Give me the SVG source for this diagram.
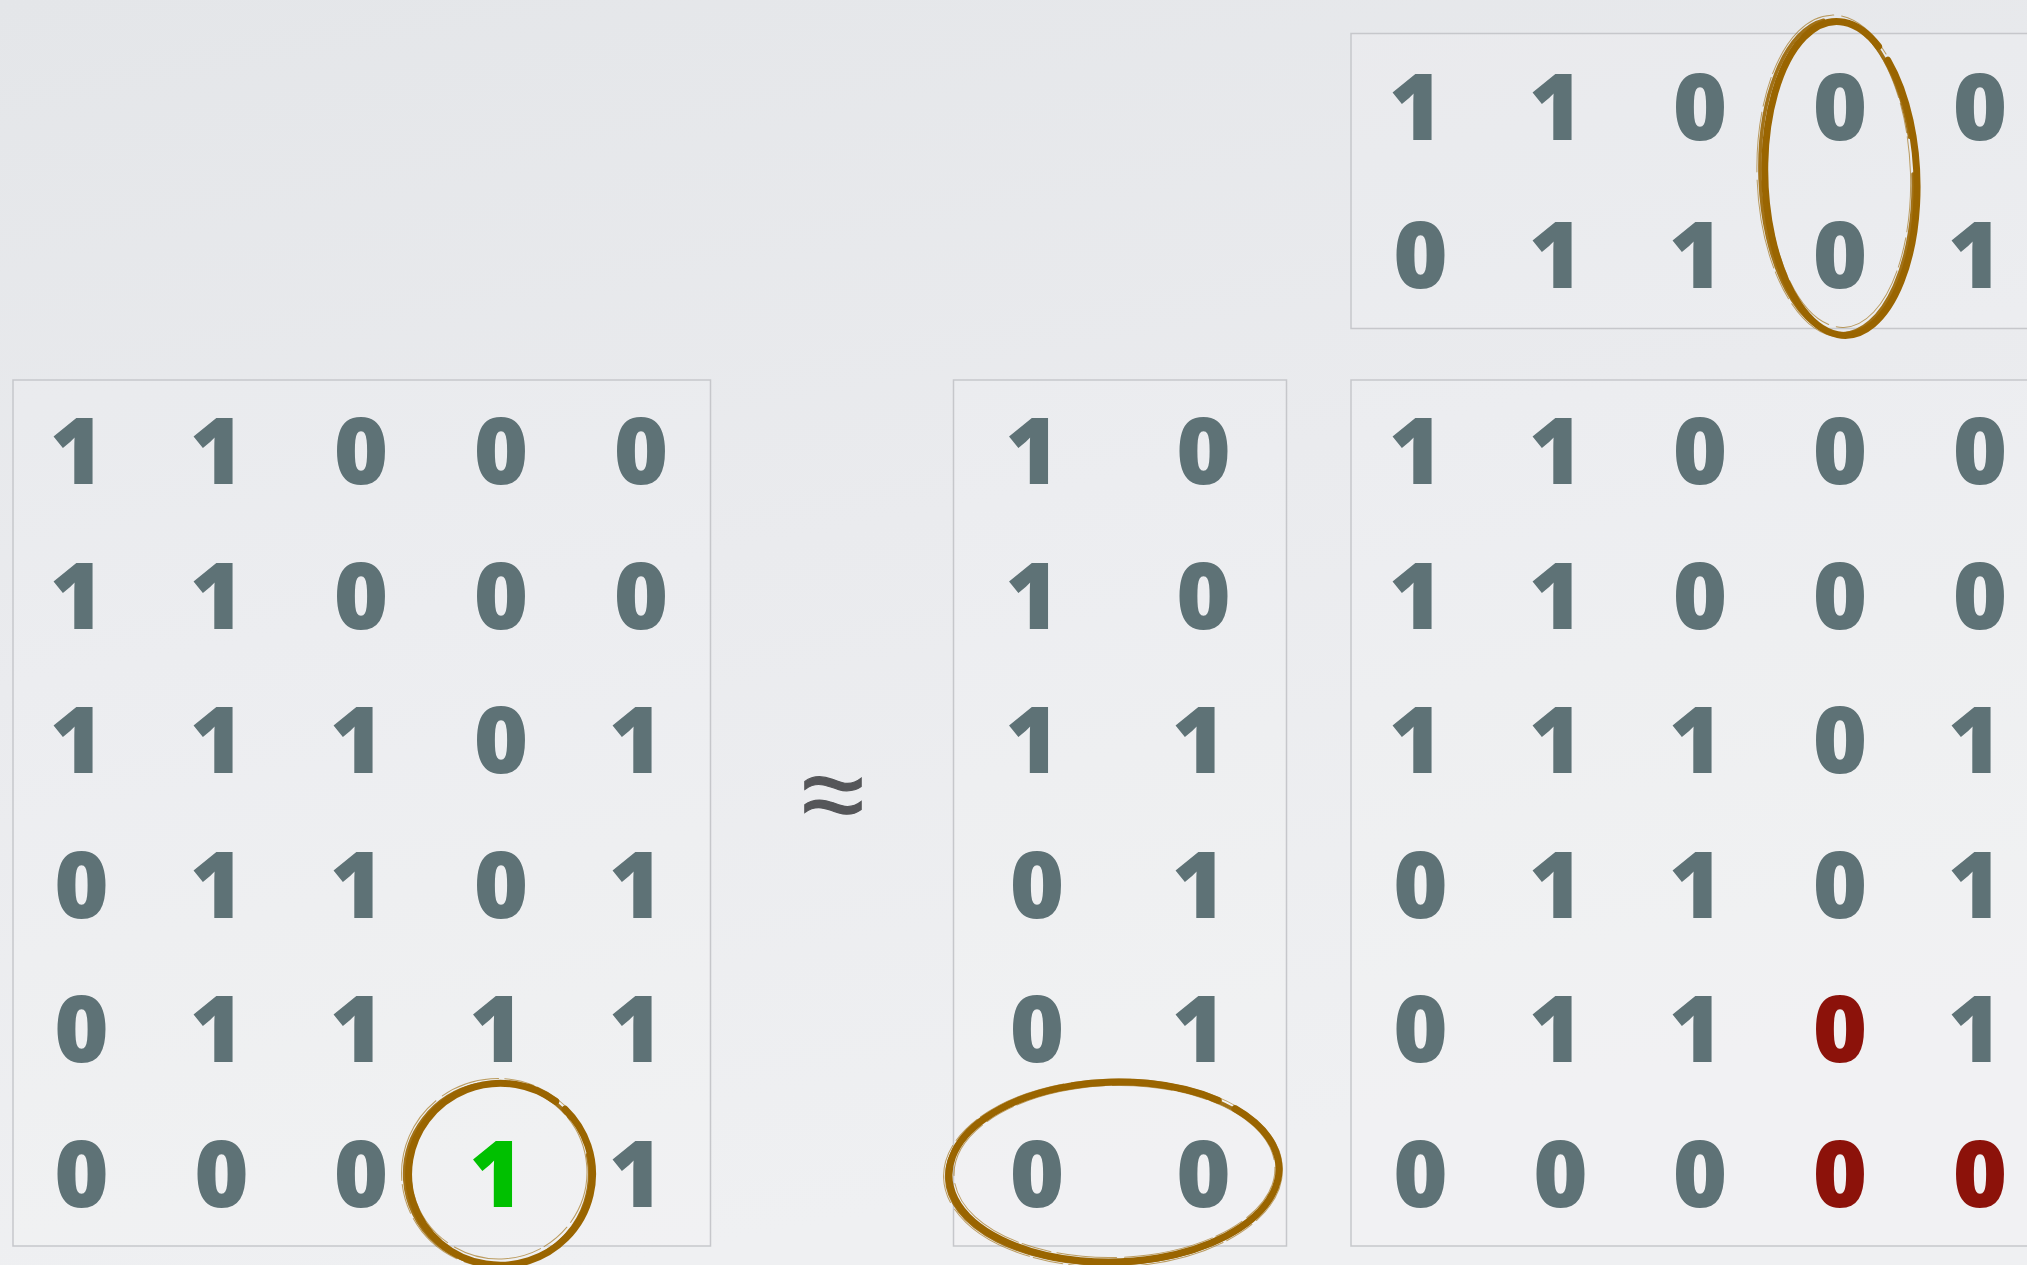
<svg xmlns="http://www.w3.org/2000/svg" width="2027" height="1265" viewBox="0 0 2027 1265">
  <defs>
    <linearGradient id="bg" x1="0" y1="0" x2="0.3" y2="1">
      <stop offset="0" stop-color="#e4e6e9"/>
      <stop offset="0.5" stop-color="#eaebee"/>
      <stop offset="1" stop-color="#eff0f2"/>
    </linearGradient>
    <style>
      .box { fill: #ffffff; fill-opacity: 0.12; stroke: #c6c7cb; stroke-width: 1.5; }
      .m text { font-family: "Open Sans", Roboto, sans-serif; font-weight: 800; font-size: 93px; text-anchor: middle; fill: #5e7276; }
      .m text.red { fill: #8c120a; }
      .m text.grn { fill: #00c000; }
      .approx { font-family: "Liberation Sans", Arial, sans-serif; font-size: 114px; fill: #555659; stroke: #555659; stroke-width: 1.2; text-anchor: middle; }
      .ring { fill: none; stroke: #9a6500; stroke-linecap: round; }
      .ring .main { stroke-width: 7; }
      .ring .edge { stroke-width: 3.5; stroke-opacity: 0.9; }
      .ring .hair { stroke-width: 1; stroke-opacity: 0.6; stroke-dasharray: 60 6 30 4 90 8; }
    </style>
  </defs>

  <rect width="2027" height="1265" fill="url(#bg)"/>

  <!-- product matrix, top right (2 x 5) -->
  <g id="matrix-top" class="m">
    <rect class="box" x="1351" y="33.5" width="700" height="295"/>
    <text x="1416" y="140" class="one">1</text>
    <text x="1556" y="140" class="one">1</text>
    <text x="1700" y="140">0</text>
    <text x="1840" y="140">0</text>
    <text x="1980" y="140">0</text>
    <text x="1420.5" y="288">0</text>
    <text x="1556" y="288" class="one">1</text>
    <text x="1696" y="288" class="one">1</text>
    <text x="1840" y="288">0</text>
    <text x="1975" y="288" class="one">1</text>
  </g>

  <!-- original matrix, left (6 x 5) -->
  <g id="matrix-left" class="m">
    <rect class="box" x="13" y="380" width="697.5" height="866"/>
    <text x="77" y="484" class="one">1</text>
    <text x="217" y="484" class="one">1</text>
    <text x="361" y="484">0</text>
    <text x="501" y="484">0</text>
    <text x="641" y="484">0</text>

    <text x="77" y="628.5" class="one">1</text>
    <text x="217" y="628.5" class="one">1</text>
    <text x="361" y="628.5">0</text>
    <text x="501" y="628.5">0</text>
    <text x="641" y="628.5">0</text>

    <text x="77" y="773" class="one">1</text>
    <text x="217" y="773" class="one">1</text>
    <text x="357" y="773" class="one">1</text>
    <text x="501" y="773">0</text>
    <text x="636" y="773" class="one">1</text>

    <text x="81.5" y="917.5">0</text>
    <text x="217" y="917.5" class="one">1</text>
    <text x="357" y="917.5" class="one">1</text>
    <text x="501" y="917.5">0</text>
    <text x="636" y="917.5" class="one">1</text>

    <text x="81.5" y="1062">0</text>
    <text x="217" y="1062" class="one">1</text>
    <text x="357" y="1062" class="one">1</text>
    <text x="496.5" y="1062" class="one">1</text>
    <text x="636" y="1062" class="one">1</text>

    <text x="81.5" y="1206.5">0</text>
    <text x="221.5" y="1206.5">0</text>
    <text x="361" y="1206.5">0</text>
    <text x="496.5" y="1206.5" class="one grn">1</text>
    <text x="636" y="1206.5" class="one">1</text>
  </g>

  <!-- approximately-equal sign -->
  <g id="approx">
    <text class="approx" x="833" y="833">≈</text>
  </g>

  <!-- factor matrix, middle (6 x 2) -->
  <g id="matrix-mid" class="m">
    <rect class="box" x="953.5" y="380" width="333" height="866"/>
    <text x="1032.5" y="484" class="one">1</text>
    <text x="1203.5" y="484">0</text>
    <text x="1032.5" y="628.5" class="one">1</text>
    <text x="1203.5" y="628.5">0</text>
    <text x="1032.5" y="773" class="one">1</text>
    <text x="1199" y="773" class="one">1</text>
    <text x="1037" y="917.5">0</text>
    <text x="1199" y="917.5" class="one">1</text>
    <text x="1037" y="1062">0</text>
    <text x="1199" y="1062" class="one">1</text>
    <text x="1037" y="1206.5">0</text>
    <text x="1203.5" y="1206.5">0</text>
  </g>

  <!-- reconstructed matrix, bottom right (6 x 5) -->
  <g id="matrix-right" class="m">
    <rect class="box" x="1351" y="380" width="700" height="866"/>
    <text x="1416" y="484" class="one">1</text>
    <text x="1556" y="484" class="one">1</text>
    <text x="1700" y="484">0</text>
    <text x="1840" y="484">0</text>
    <text x="1980" y="484">0</text>

    <text x="1416" y="628.5" class="one">1</text>
    <text x="1556" y="628.5" class="one">1</text>
    <text x="1700" y="628.5">0</text>
    <text x="1840" y="628.5">0</text>
    <text x="1980" y="628.5">0</text>

    <text x="1416" y="773" class="one">1</text>
    <text x="1556" y="773" class="one">1</text>
    <text x="1696" y="773" class="one">1</text>
    <text x="1840" y="773">0</text>
    <text x="1975" y="773" class="one">1</text>

    <text x="1420.5" y="917.5">0</text>
    <text x="1556" y="917.5" class="one">1</text>
    <text x="1696" y="917.5" class="one">1</text>
    <text x="1840" y="917.5">0</text>
    <text x="1975" y="917.5" class="one">1</text>

    <text x="1420.5" y="1062">0</text>
    <text x="1556" y="1062" class="one">1</text>
    <text x="1696" y="1062" class="one">1</text>
    <text x="1840" y="1062" class="red">0</text>
    <text x="1975" y="1062" class="one">1</text>

    <text x="1420.5" y="1206.5">0</text>
    <text x="1560.5" y="1206.5">0</text>
    <text x="1700" y="1206.5">0</text>
    <text x="1840" y="1206.5" class="red">0</text>
    <text x="1980" y="1206.5" class="red">0</text>
  </g>

  <!-- hand-drawn highlight rings -->
  <g id="annotations">
    <!-- ring around the green entry -->
    <g class="ring" transform="rotate(-4 498.5 1172.5)">
      <path class="main" d="M 569.3 1114.0 A 92 91 0 1 1 560.6 1105.5"/>
      <ellipse class="edge" cx="497" cy="1174" rx="92.5" ry="91.5" stroke-dasharray="420 14 90 40"/>
      <ellipse class="hair" cx="499" cy="1172" rx="88" ry="87"/>
      <ellipse class="hair" cx="497.5" cy="1173" rx="96" ry="94.5"/>
    </g>
    <!-- ring around the bottom row of the factor matrix -->
    <g class="ring" transform="rotate(-1.5 1114 1172)">
      <path class="main" d="M 1236.6 1111.8 A 165 90 0 1 1 1220.1 1103.1"/>
      <ellipse class="edge" cx="1112.5" cy="1173.5" rx="166" ry="90.5" stroke-dasharray="700 18 140 60"/>
      <ellipse class="hair" cx="1114.5" cy="1171.5" rx="160.5" ry="86"/>
      <ellipse class="hair" cx="1113" cy="1173" rx="169.5" ry="94"/>
    </g>
    <!-- ring around the fourth column of the top matrix -->
    <g class="ring" transform="rotate(-2 1838 175)">
      <path class="main" d="M 1891.7 62.0 A 76 157 0 1 1 1883.0 48.0"/>
      <ellipse class="edge" cx="1836.5" cy="176.5" rx="76.5" ry="157.5" stroke-dasharray="560 20 140 50"/>
      <ellipse class="hair" cx="1838.5" cy="174.5" rx="72" ry="153"/>
      <ellipse class="hair" cx="1837" cy="176" rx="80" ry="161"/>
    </g>
  </g>
</svg>
